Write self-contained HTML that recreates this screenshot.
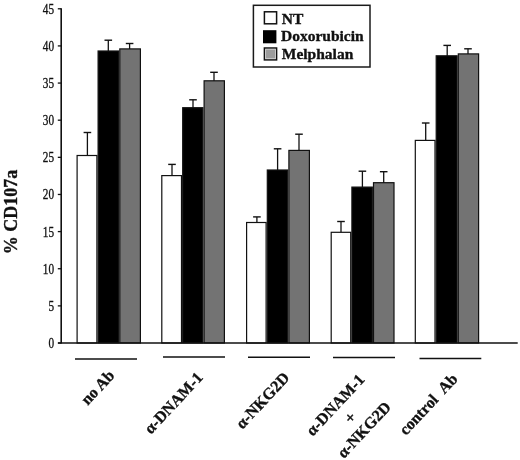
<!DOCTYPE html>
<html><head><meta charset="utf-8"><title>CD107a chart</title>
<style>
html,body{margin:0;padding:0;background:#fff;}
body{width:520px;height:460px;overflow:hidden;}
svg{display:block;will-change:transform;}
text{font-family:"Liberation Serif","Times New Roman",serif;fill:#111;}
.b{font-weight:bold;stroke:#111;stroke-width:0.35px;}
</style></head><body>
<svg width="520" height="460" viewBox="0 0 520 460">

<line x1="87.4" y1="132.5" x2="87.4" y2="155.9" stroke="#111" stroke-width="1.3"/>
<line x1="83.60000000000001" y1="132.5" x2="91.2" y2="132.5" stroke="#111" stroke-width="1.4"/>
<line x1="108.3" y1="40.2" x2="108.3" y2="51.4" stroke="#111" stroke-width="1.3"/>
<line x1="104.5" y1="40.2" x2="112.1" y2="40.2" stroke="#111" stroke-width="1.4"/>
<line x1="129.6" y1="43.5" x2="129.6" y2="49.3" stroke="#111" stroke-width="1.3"/>
<line x1="125.8" y1="43.5" x2="133.4" y2="43.5" stroke="#111" stroke-width="1.4"/>
<line x1="172.0" y1="164.4" x2="172.0" y2="176.0" stroke="#111" stroke-width="1.3"/>
<line x1="168.2" y1="164.4" x2="175.8" y2="164.4" stroke="#111" stroke-width="1.4"/>
<line x1="193.0" y1="99.8" x2="193.0" y2="108.1" stroke="#111" stroke-width="1.3"/>
<line x1="189.2" y1="99.8" x2="196.8" y2="99.8" stroke="#111" stroke-width="1.4"/>
<line x1="214.0" y1="72.3" x2="214.0" y2="81.2" stroke="#111" stroke-width="1.3"/>
<line x1="210.2" y1="72.3" x2="217.8" y2="72.3" stroke="#111" stroke-width="1.4"/>
<line x1="256.9" y1="216.9" x2="256.9" y2="222.9" stroke="#111" stroke-width="1.3"/>
<line x1="253.09999999999997" y1="216.9" x2="260.7" y2="216.9" stroke="#111" stroke-width="1.4"/>
<line x1="277.6" y1="148.8" x2="277.6" y2="170.4" stroke="#111" stroke-width="1.3"/>
<line x1="273.8" y1="148.8" x2="281.40000000000003" y2="148.8" stroke="#111" stroke-width="1.4"/>
<line x1="299.0" y1="134.2" x2="299.0" y2="150.8" stroke="#111" stroke-width="1.3"/>
<line x1="295.2" y1="134.2" x2="302.8" y2="134.2" stroke="#111" stroke-width="1.4"/>
<line x1="341.0" y1="221.5" x2="341.0" y2="232.7" stroke="#111" stroke-width="1.3"/>
<line x1="337.2" y1="221.5" x2="344.8" y2="221.5" stroke="#111" stroke-width="1.4"/>
<line x1="362.4" y1="171.2" x2="362.4" y2="187.5" stroke="#111" stroke-width="1.3"/>
<line x1="358.59999999999997" y1="171.2" x2="366.2" y2="171.2" stroke="#111" stroke-width="1.4"/>
<line x1="383.7" y1="171.7" x2="383.7" y2="183.1" stroke="#111" stroke-width="1.3"/>
<line x1="379.9" y1="171.7" x2="387.5" y2="171.7" stroke="#111" stroke-width="1.4"/>
<line x1="425.7" y1="123.0" x2="425.7" y2="140.8" stroke="#111" stroke-width="1.3"/>
<line x1="421.9" y1="123.0" x2="429.5" y2="123.0" stroke="#111" stroke-width="1.4"/>
<line x1="447.2" y1="45.4" x2="447.2" y2="56.2" stroke="#111" stroke-width="1.3"/>
<line x1="443.4" y1="45.4" x2="451.0" y2="45.4" stroke="#111" stroke-width="1.4"/>
<line x1="468.0" y1="48.8" x2="468.0" y2="54.3" stroke="#111" stroke-width="1.3"/>
<line x1="464.2" y1="48.8" x2="471.8" y2="48.8" stroke="#111" stroke-width="1.4"/>
<rect x="77.10" y="155.50" width="19.80" height="187.50" fill="#ffffff" stroke="#111" stroke-width="1.2"/>
<rect x="98.10" y="51.00" width="20.50" height="292.00" fill="#000000" stroke="#111" stroke-width="1.2"/>
<rect x="119.80" y="48.90" width="20.60" height="294.10" fill="#737373" stroke="#111" stroke-width="1.2"/>
<rect x="161.80" y="175.60" width="19.70" height="167.40" fill="#ffffff" stroke="#111" stroke-width="1.2"/>
<rect x="182.70" y="107.70" width="20.20" height="235.30" fill="#000000" stroke="#111" stroke-width="1.2"/>
<rect x="204.10" y="80.80" width="20.30" height="262.20" fill="#737373" stroke="#111" stroke-width="1.2"/>
<rect x="246.60" y="222.50" width="19.50" height="120.50" fill="#ffffff" stroke="#111" stroke-width="1.2"/>
<rect x="267.30" y="170.00" width="20.40" height="173.00" fill="#000000" stroke="#111" stroke-width="1.2"/>
<rect x="288.90" y="150.40" width="20.50" height="192.60" fill="#737373" stroke="#111" stroke-width="1.2"/>
<rect x="331.20" y="232.30" width="19.50" height="110.70" fill="#ffffff" stroke="#111" stroke-width="1.2"/>
<rect x="351.90" y="187.10" width="20.40" height="155.90" fill="#000000" stroke="#111" stroke-width="1.2"/>
<rect x="373.50" y="182.70" width="20.50" height="160.30" fill="#737373" stroke="#111" stroke-width="1.2"/>
<rect x="415.30" y="140.40" width="19.70" height="202.60" fill="#ffffff" stroke="#111" stroke-width="1.2"/>
<rect x="436.20" y="55.80" width="20.90" height="287.20" fill="#000000" stroke="#111" stroke-width="1.2"/>
<rect x="458.30" y="53.90" width="20.30" height="289.10" fill="#737373" stroke="#111" stroke-width="1.2"/>
<line x1="61.2" y1="8.2" x2="61.2" y2="343.6" stroke="#111" stroke-width="1.6"/>
<line x1="58" y1="343.0" x2="517.7" y2="343.0" stroke="#111" stroke-width="1.4"/>
<line x1="57.8" y1="343.00" x2="61.2" y2="343.00" stroke="#111" stroke-width="1.3"/>
<text transform="translate(54.0,347.90) scale(0.75,1)" font-size="15" text-anchor="end" stroke="#111" stroke-width="0.35">0</text>
<line x1="57.8" y1="305.87" x2="61.2" y2="305.87" stroke="#111" stroke-width="1.3"/>
<text transform="translate(54.0,310.76) scale(0.75,1)" font-size="15" text-anchor="end" stroke="#111" stroke-width="0.35">5</text>
<line x1="57.8" y1="268.73" x2="61.2" y2="268.73" stroke="#111" stroke-width="1.3"/>
<text transform="translate(54.0,273.63) scale(0.75,1)" font-size="15" text-anchor="end" stroke="#111" stroke-width="0.35">10</text>
<line x1="57.8" y1="231.59" x2="61.2" y2="231.59" stroke="#111" stroke-width="1.3"/>
<text transform="translate(54.0,236.50) scale(0.75,1)" font-size="15" text-anchor="end" stroke="#111" stroke-width="0.35">15</text>
<line x1="57.8" y1="194.46" x2="61.2" y2="194.46" stroke="#111" stroke-width="1.3"/>
<text transform="translate(54.0,199.36) scale(0.75,1)" font-size="15" text-anchor="end" stroke="#111" stroke-width="0.35">20</text>
<line x1="57.8" y1="157.33" x2="61.2" y2="157.33" stroke="#111" stroke-width="1.3"/>
<text transform="translate(54.0,162.23) scale(0.75,1)" font-size="15" text-anchor="end" stroke="#111" stroke-width="0.35">25</text>
<line x1="57.8" y1="120.19" x2="61.2" y2="120.19" stroke="#111" stroke-width="1.3"/>
<text transform="translate(54.0,125.09) scale(0.75,1)" font-size="15" text-anchor="end" stroke="#111" stroke-width="0.35">30</text>
<line x1="57.8" y1="83.06" x2="61.2" y2="83.06" stroke="#111" stroke-width="1.3"/>
<text transform="translate(54.0,87.96) scale(0.75,1)" font-size="15" text-anchor="end" stroke="#111" stroke-width="0.35">35</text>
<line x1="57.8" y1="45.92" x2="61.2" y2="45.92" stroke="#111" stroke-width="1.3"/>
<text transform="translate(54.0,50.82) scale(0.75,1)" font-size="15" text-anchor="end" stroke="#111" stroke-width="0.35">40</text>
<line x1="57.8" y1="8.79" x2="61.2" y2="8.79" stroke="#111" stroke-width="1.3"/>
<text transform="translate(54.0,13.69) scale(0.75,1)" font-size="15" text-anchor="end" stroke="#111" stroke-width="0.35">45</text>
<line x1="75" y1="359" x2="137" y2="359" stroke="#111" stroke-width="1.4"/>
<line x1="163" y1="357" x2="225" y2="357" stroke="#111" stroke-width="1.4"/>
<line x1="248" y1="357.3" x2="310" y2="357.3" stroke="#111" stroke-width="1.4"/>
<line x1="333" y1="357.5" x2="395" y2="357.5" stroke="#111" stroke-width="1.4"/>
<line x1="419.5" y1="358.5" x2="481.3" y2="358.5" stroke="#111" stroke-width="1.4"/>
<text class="b" transform="translate(17,254.2) rotate(-90)" font-size="18">% CD107a</text>
<rect x="253.4" y="5.3" width="116.6" height="61.7" fill="#fff" stroke="#1a1a1a" stroke-width="1.5"/>
<rect x="264.4" y="11.8" width="12.2" height="12.0" fill="#fff" stroke="#111" stroke-width="1.5"/>
<rect x="263" y="30.2" width="13.4" height="13.1" fill="#000"/>
<rect x="264.4" y="48.0" width="12.2" height="11.9" fill="#9c9c9c" stroke="#111" stroke-width="1.5"/>
<rect x="265.6" y="49.2" width="9.8" height="9.5" fill="none" stroke="#d8d8d8" stroke-width="0.8"/>
<text class="b" x="281.8" y="23.7" font-size="15.5">NT</text>
<text class="b" x="281" y="41.2" font-size="15.5">Doxorubicin</text>
<text class="b" x="281.8" y="58.7" font-size="15.5">Melphalan</text>
<text class="b" transform="translate(87.8,405.8) rotate(-47)" font-size="16" xml:space="preserve">no Ab</text>
<text class="b" transform="translate(151.0,434.8) rotate(-47)" font-size="16" xml:space="preserve">α-DNAM-1</text>
<text class="b" transform="translate(242.4,429.8) rotate(-47)" font-size="16" xml:space="preserve">α-NKG2D</text>
<text class="b" transform="translate(312.8,436.7) rotate(-47)" font-size="16" xml:space="preserve">α-DNAM-1</text>
<text class="b" transform="translate(350.9,424.6) rotate(-47)" font-size="16" xml:space="preserve">+</text>
<text class="b" transform="translate(343.9,459.1) rotate(-47)" font-size="16" xml:space="preserve">α-NKG2D</text>
<text class="b" transform="translate(406.0,436.0) rotate(-47)" font-size="16" xml:space="preserve">control  Ab</text>
</svg>
</body></html>
